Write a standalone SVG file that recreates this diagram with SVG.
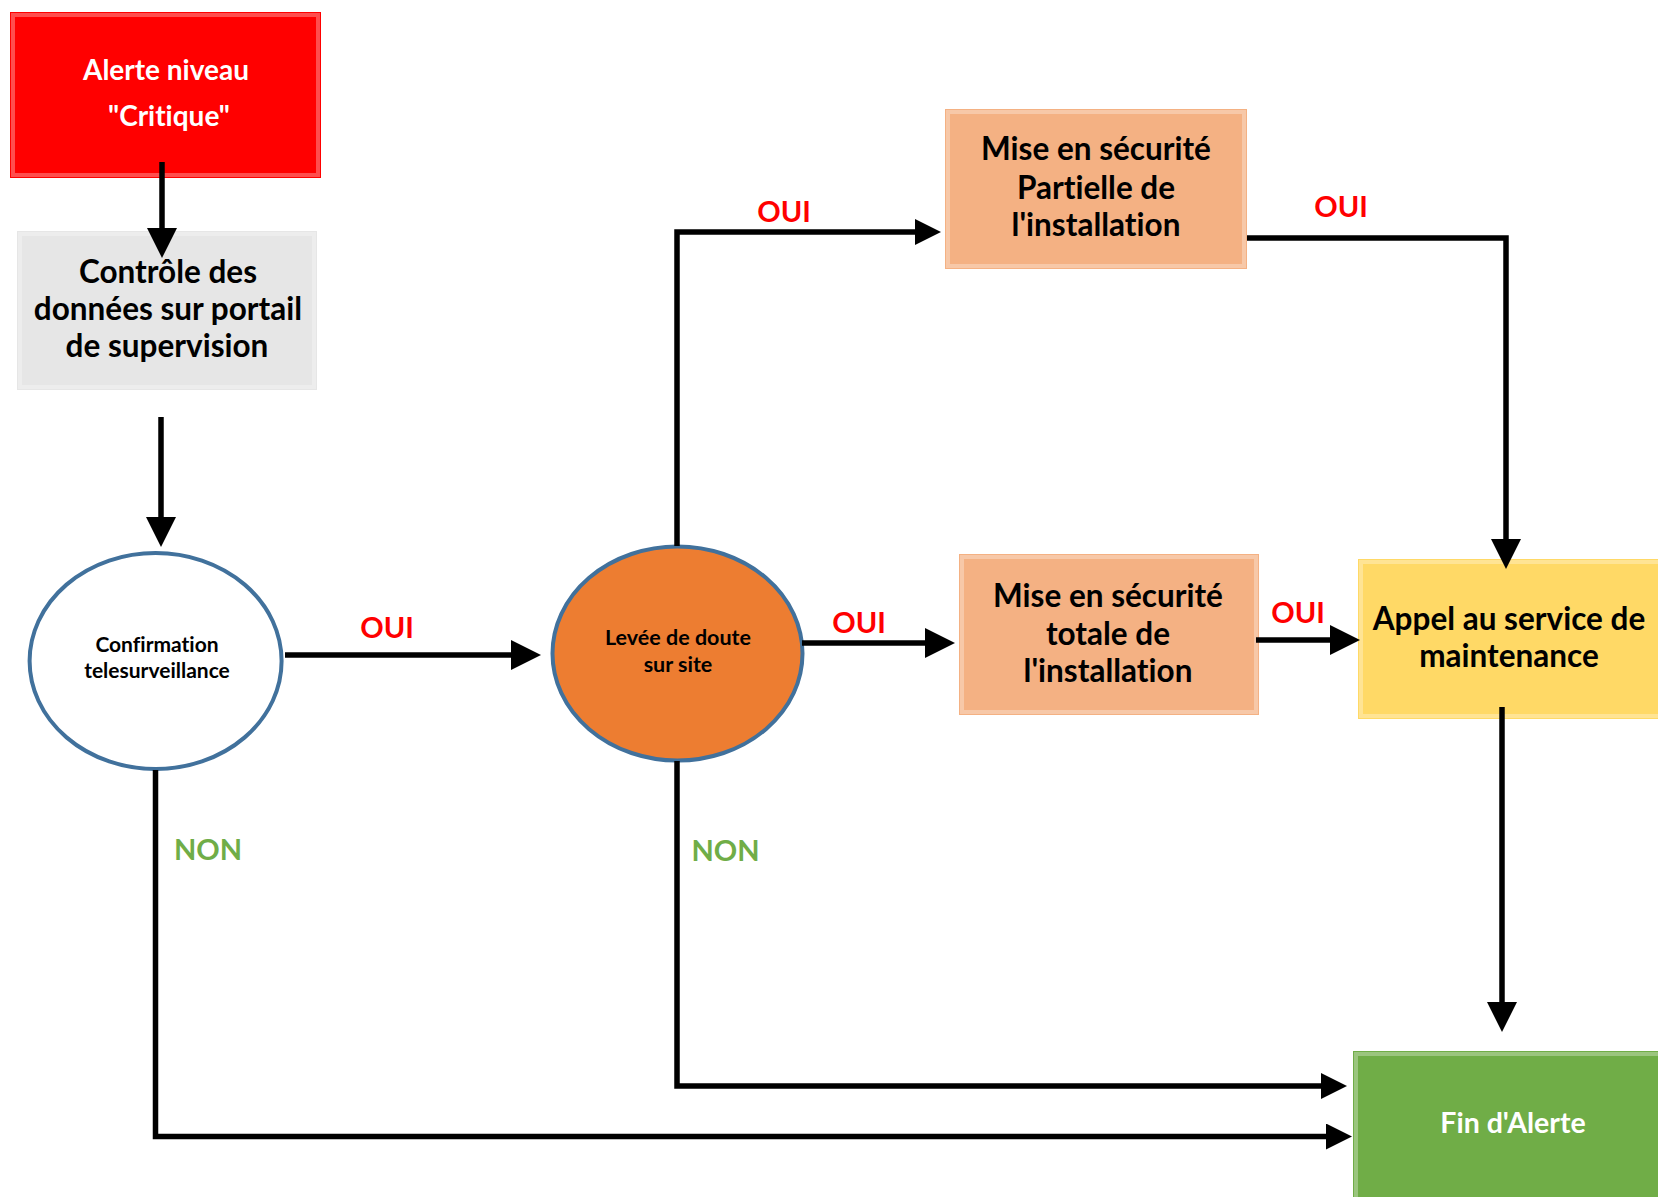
<svg xmlns="http://www.w3.org/2000/svg" width="1658" height="1197" viewBox="0 0 1658 1197">
<style>
  .t { font-family: Lato, "Open Sans", "Liberation Sans", sans-serif; font-weight: bold; text-anchor: middle; font-variant-ligatures: none; }
  .dark { fill: #000000; }
  .white { fill: #FFFFFF; }
  .oui { fill: #FF0000; font-size: 29px; }
  .non { fill: #70AD47; font-size: 29px; }
  .bevel { fill: none; stroke: #FFFFFF; stroke-opacity: 0.3; stroke-width: 4; }
  .conn { fill: none; stroke: #000000; stroke-width: 5.5; }
  .ell { stroke: #41719C; stroke-width: 4; }
</style>
<defs>
  <marker id="ah" markerUnits="userSpaceOnUse" markerWidth="30" markerHeight="30" refX="0" refY="15" orient="auto" viewBox="0 0 30 30">
    <path d="M0,0 L30,15 L0,30 Z" fill="#000000"/>
  </marker>
  <marker id="ahs" markerUnits="userSpaceOnUse" markerWidth="26" markerHeight="26" refX="0" refY="13" orient="auto" viewBox="0 0 26 26">
    <path d="M0,0 L26,13 L0,26 Z" fill="#000000"/>
  </marker>
</defs>
<rect width="1658" height="1197" fill="#FFFFFF"/>

<g id="alerte">
  <rect x="10" y="12" width="311" height="166" fill="#FF0000"/>
  <rect x="13" y="15" width="305" height="160" class="bevel"/>
  <text class="t white" font-size="28" x="166" y="80">Alerte niveau</text>
  <text class="t white" font-size="28" x="169" y="126">"Critique"</text>
</g>

<g id="controle">
  <rect x="17" y="231" width="300" height="159" fill="#E6E6E6"/>
  <rect x="20" y="234" width="294" height="153" class="bevel"/>
  <text class="t dark" font-size="31.5" x="168" y="283">Contrôle des</text>
  <text class="t dark" font-size="31.5" x="168" y="320">données sur portail</text>
  <text class="t dark" font-size="31.5" x="167" y="357">de supervision</text>
</g>

<g id="confirmation">
  <ellipse cx="155.6" cy="661" rx="126" ry="108" fill="#FFFFFF" class="ell"/>
  <text class="t dark" font-size="21" x="157" y="652">Confirmation</text>
  <text class="t dark" font-size="21" x="157" y="678">telesurveillance</text>
</g>

<g id="levee">
  <ellipse cx="677.5" cy="653.5" rx="125" ry="107" fill="#ED7D31" class="ell"/>
  <text class="t dark" font-size="21.5" x="678" y="645">Levée de doute</text>
  <text class="t dark" font-size="21.5" x="678" y="672">sur site</text>
</g>

<g id="partielle">
  <rect x="945" y="109" width="302" height="160" fill="#F4B183"/>
  <rect x="948" y="112" width="296" height="154" class="bevel"/>
  <text class="t dark" font-size="31.5" x="1096" y="160">Mise en sécurité</text>
  <text class="t dark" font-size="31.5" x="1096" y="199">Partielle de</text>
  <text class="t dark" font-size="31.5" x="1096" y="236">l'installation</text>
</g>

<g id="totale">
  <rect x="959" y="554" width="300" height="161" fill="#F4B183"/>
  <rect x="962" y="557" width="294" height="155" class="bevel"/>
  <text class="t dark" font-size="31.5" x="1108" y="607">Mise en sécurité</text>
  <text class="t dark" font-size="31.5" x="1108" y="645">totale de</text>
  <text class="t dark" font-size="31.5" x="1108" y="682">l'installation</text>
</g>

<g id="appel">
  <rect x="1358" y="559" width="302" height="160" fill="#FFD966"/>
  <rect x="1361" y="562" width="300" height="154" class="bevel"/>
  <text class="t dark" font-size="31.5" x="1509" y="630">Appel au service de</text>
  <text class="t dark" font-size="31.5" x="1509" y="667">maintenance</text>
</g>

<g id="fin">
  <rect x="1353" y="1051" width="307" height="150" fill="#70AD47"/>
  <rect x="1356" y="1054" width="305" height="150" class="bevel"/>
  <text class="t white" font-size="28.5" x="1513" y="1133">Fin d'Alerte</text>
</g>

<g id="connectors">
  <path class="conn" d="M162,162 V228" marker-end="url(#ah)"/>
  <path class="conn" d="M161,417 V517" marker-end="url(#ah)"/>
  <path class="conn" d="M285,655 H511" marker-end="url(#ah)"/>
  <path class="conn" d="M677,546 V232 H915" marker-end="url(#ahs)"/>
  <path class="conn" d="M802,643 H925" marker-end="url(#ah)"/>
  <path class="conn" d="M1247,238 H1506 V539" marker-end="url(#ah)"/>
  <path class="conn" d="M1256,640 H1330" marker-end="url(#ah)"/>
  <path class="conn" d="M1502,707 V1002" marker-end="url(#ah)"/>
  <path class="conn" d="M677,761 V1086 H1321" marker-end="url(#ahs)"/>
  <path class="conn" d="M155.5,770 V1136.5 H1326" marker-end="url(#ahs)"/>
</g>

<g id="labels">
  <text class="t oui" x="387" y="638">OUI</text>
  <text class="t oui" x="784" y="222">OUI</text>
  <text class="t oui" x="1341" y="217">OUI</text>
  <text class="t oui" x="859" y="633">OUI</text>
  <text class="t oui" x="1298" y="623">OUI</text>
  <text class="t non" x="208" y="860">NON</text>
  <text class="t non" x="725.5" y="861">NON</text>
</g>
</svg>
